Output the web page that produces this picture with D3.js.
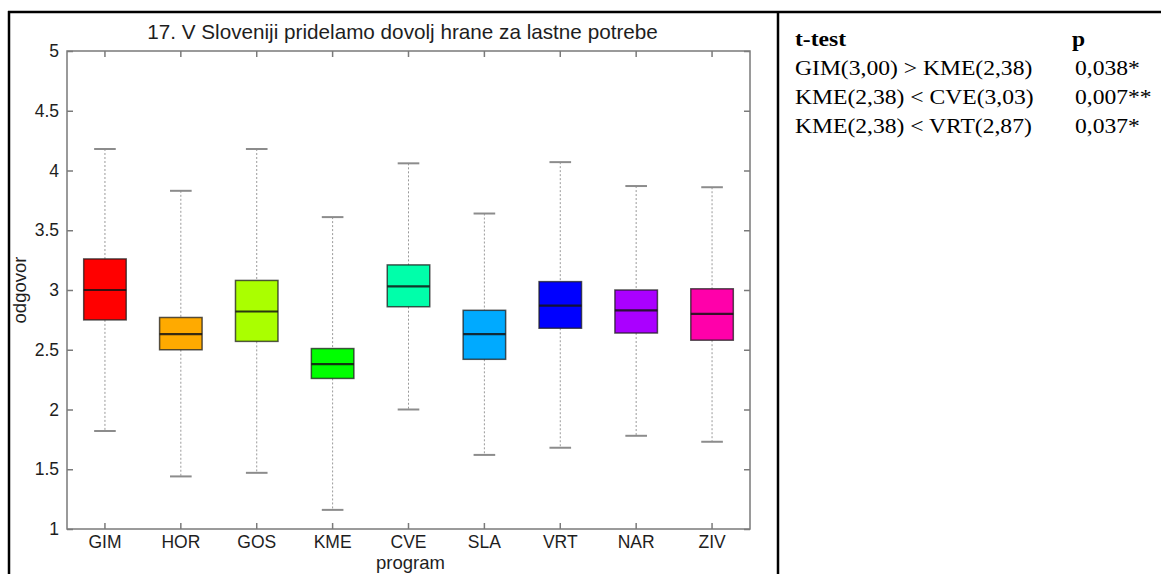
<!DOCTYPE html>
<html>
<head>
<meta charset="utf-8">
<script src="https://cdn.jsdelivr.net/npm/d3@7"></script>
<style>
  html, body { margin: 0; padding: 0; background: #fff; }
  svg { display: block; }
</style>
</head>
<body>
<svg id="chart" width="1161" height="574"></svg>
<script>
// Programs (x categories)
const programs = ["GIM", "HOR", "GOS", "KME", "CVE", "SLA", "VRT", "NAR", "ZIV"];
// Mean answer per program (centre line)
const means      = [3.00, 2.63, 2.82, 2.38, 3.03, 2.63, 2.87, 2.83, 2.80];
// Box edges
const boxLow     = [2.75, 2.50, 2.57, 2.26, 2.86, 2.42, 2.68, 2.64, 2.58];
const boxHigh    = [3.26, 2.77, 3.08, 2.51, 3.21, 2.83, 3.07, 3.00, 3.01];
// Whisker ends
const whiskerLow  = [1.82, 1.44, 1.47, 1.16, 2.00, 1.62, 1.68, 1.78, 1.73];
const whiskerHigh = [4.18, 3.83, 4.18, 3.61, 4.06, 3.64, 4.07, 3.87, 3.86];
// Box colours (hsv colormap, 9 steps)
const colors = ["#ff0000", "#ffaa00", "#aaff00", "#00ff00", "#00ffaa", "#00aaff", "#0000ff", "#aa00ff", "#ff00aa"];
// Y axis ticks
const yTicks = [1, 1.5, 2, 2.5, 3, 3.5, 4, 4.5, 5];

// t-test table
const testHeader = ["t-test", "p"];
const testRows = [
  "GIM(3,00) > KME(2,38)",
  "KME(2,38) < CVE(3,03)",
  "KME(2,38) < VRT(2,87)"
];
const testP = ["0,038*", "0,007**", "0,037*"];

const svg = d3.select("#chart");

// ---- frame (table borders) ----
const frame = svg.append("g").attr("stroke", "#000").attr("stroke-width", 2.5);
frame.append("line").attr("x1", 8).attr("x2", 1161).attr("y1", 12).attr("y2", 12);
frame.append("line").attr("x1", 9).attr("x2", 9).attr("y1", 11).attr("y2", 574);
frame.append("line").attr("x1", 778).attr("x2", 778).attr("y1", 11).attr("y2", 574);

// ---- box plot ----
const plot = { left: 67, right: 750, top: 51, bottom: 529 };

const x = d3.scaleBand().domain(programs).range([plot.left, plot.right]).padding(0);
const y = d3.scaleLinear().domain([1, 5]).range([plot.bottom, plot.top]);
const bw = x.bandwidth();
const cx = p => x(p) + bw / 2;
const boxW = bw * 0.56;
const capW = bw * 0.285;

const axisColor = "#7a7a7a";
const textColor = "#1e1e1e";
const sans = "'Liberation Sans', Arial, sans-serif";

// axes frame
svg.append("rect")
  .attr("x", plot.left).attr("y", plot.top)
  .attr("width", plot.right - plot.left).attr("height", plot.bottom - plot.top)
  .attr("fill", "none").attr("stroke", axisColor).attr("stroke-width", 1.5);

// left axis: inward ticks + labels
const yAxisL = d3.axisLeft(y).tickValues(yTicks).tickSizeInner(-6).tickSizeOuter(0).tickPadding(10)
  .tickFormat(d3.format("~g"));
const gyl = svg.append("g").attr("transform", `translate(${plot.left},0)`).call(yAxisL);
// right axis: inward ticks only
const yAxisR = d3.axisRight(y).tickValues(yTicks).tickSizeInner(-6).tickSizeOuter(0).tickFormat("");
const gyr = svg.append("g").attr("transform", `translate(${plot.right},0)`).call(yAxisR);
// bottom axis
const xAxisB = d3.axisBottom(x).tickSizeInner(-6).tickSizeOuter(0).tickPadding(7);
const gxb = svg.append("g").attr("transform", `translate(0,${plot.bottom})`).call(xAxisB);
// top axis: ticks only
const xAxisT = d3.axisTop(x).tickSizeInner(-6).tickSizeOuter(0).tickFormat("");
const gxt = svg.append("g").attr("transform", `translate(0,${plot.top})`).call(xAxisT);

[gyl, gyr, gxb, gxt].forEach(g => {
  g.select(".domain").remove();
  g.selectAll(".tick line").attr("stroke", axisColor).attr("stroke-width", 1.5);
  g.selectAll(".tick text").attr("fill", textColor).attr("font-family", sans).attr("font-size", 17.5);
});
gyl.selectAll(".tick text").attr("dx", 2);

const data = programs.map((p, i) => ({
  p, mean: means[i], lo: boxLow[i], hi: boxHigh[i],
  wlo: whiskerLow[i], whi: whiskerHigh[i], color: colors[i]
}));

const boxes = svg.append("g").selectAll("g").data(data).join("g");

// whiskers (dotted)
boxes.append("line")
  .attr("x1", d => cx(d.p)).attr("x2", d => cx(d.p))
  .attr("y1", d => y(d.whi)).attr("y2", d => y(d.hi))
  .attr("stroke", "#9a9a9a").attr("stroke-width", 1).attr("stroke-dasharray", "2,2");
boxes.append("line")
  .attr("x1", d => cx(d.p)).attr("x2", d => cx(d.p))
  .attr("y1", d => y(d.lo)).attr("y2", d => y(d.wlo))
  .attr("stroke", "#9a9a9a").attr("stroke-width", 1).attr("stroke-dasharray", "2,2");
// whisker caps
boxes.append("line")
  .attr("x1", d => cx(d.p) - capW / 2).attr("x2", d => cx(d.p) + capW / 2)
  .attr("y1", d => y(d.whi)).attr("y2", d => y(d.whi))
  .attr("stroke", "#8c8c8c").attr("stroke-width", 2);
boxes.append("line")
  .attr("x1", d => cx(d.p) - capW / 2).attr("x2", d => cx(d.p) + capW / 2)
  .attr("y1", d => y(d.wlo)).attr("y2", d => y(d.wlo))
  .attr("stroke", "#8c8c8c").attr("stroke-width", 2);
// boxes
boxes.append("rect")
  .attr("x", d => cx(d.p) - boxW / 2).attr("width", boxW)
  .attr("y", d => y(d.hi)).attr("height", d => y(d.lo) - y(d.hi))
  .attr("fill", d => d.color)
  .attr("stroke", "rgba(30,30,30,0.75)").attr("stroke-width", 1.5);
// mean line
boxes.append("line")
  .attr("x1", d => cx(d.p) - boxW / 2).attr("x2", d => cx(d.p) + boxW / 2)
  .attr("y1", d => y(d.mean)).attr("y2", d => y(d.mean))
  .attr("stroke", "rgba(20,20,20,0.85)").attr("stroke-width", 2.2);

// title and axis labels
svg.append("text")
  .attr("x", (plot.left + plot.right) / 2 - 6).attr("y", 39)
  .attr("text-anchor", "middle").attr("font-family", sans).attr("font-size", 20.7)
  .attr("fill", textColor)
  .text("17. V Sloveniji pridelamo dovolj hrane za lastne potrebe");
svg.append("text")
  .attr("x", (plot.left + plot.right) / 2 + 2).attr("y", 569)
  .attr("text-anchor", "middle").attr("font-family", sans).attr("font-size", 18.5)
  .attr("fill", textColor).text("program");
svg.append("text")
  .attr("transform", `translate(26,${(plot.top + plot.bottom) / 2}) rotate(-90)`)
  .attr("text-anchor", "middle").attr("font-family", sans).attr("font-size", 18.5)
  .attr("fill", textColor).text("odgovor");

// ---- t-test table ----
const sx = 1.18;
const serif = "'Liberation Serif', 'Times New Roman', serif";
const table = svg.append("g").attr("transform", `scale(${sx},1)`)
  .attr("font-family", serif).attr("font-size", 20).attr("fill", "#000");
const rowY = d3.scalePoint().domain(d3.range(testRows.length + 1)).range([46, 133]);
table.append("text").attr("x", 795 / sx).attr("y", rowY(0)).attr("font-weight", "bold").text(testHeader[0]);
table.append("text").attr("x", 1072 / sx).attr("y", rowY(0)).attr("font-weight", "bold").text(testHeader[1]);
testRows.forEach((r, i) => {
  table.append("text").attr("x", 795 / sx).attr("y", rowY(i + 1)).text(r);
  table.append("text").attr("x", 1075 / sx).attr("y", rowY(i + 1)).text(testP[i]);
});
</script>
</body>
</html>
